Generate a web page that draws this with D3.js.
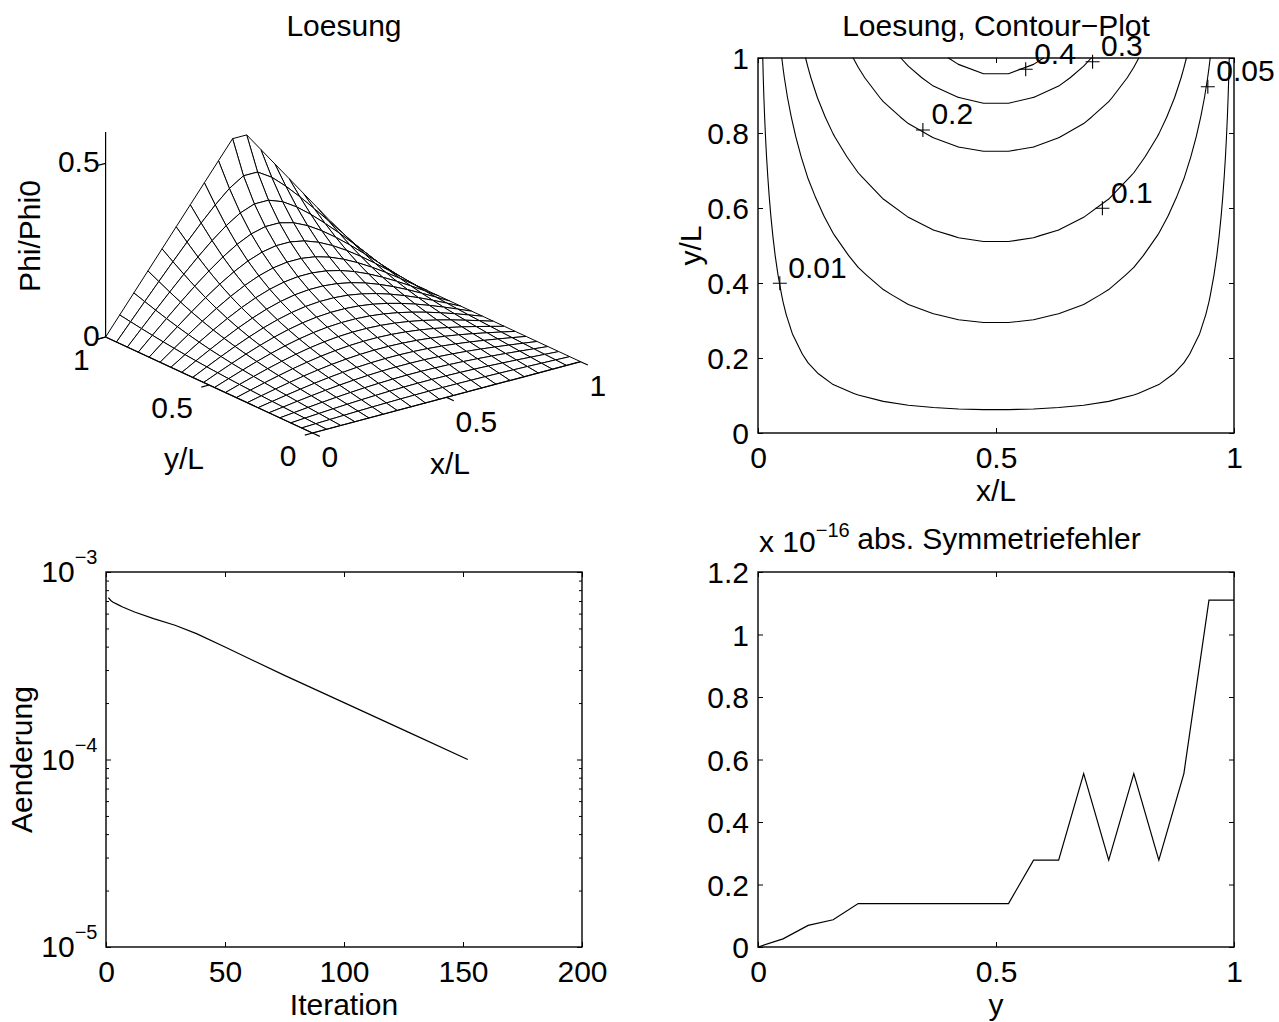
<!DOCTYPE html>
<html><head><meta charset="utf-8">
<script src="https://cdn.jsdelivr.net/npm/d3@7"></script>
<style>
html,body{margin:0;padding:0;background:#fff;}
</style></head><body>
<svg id="fig" width="1279" height="1022"></svg>
<script>
// ---------------- DATA ----------------
const gridX = [0,0.0526,0.1053,0.1579,0.2105,0.2632,0.3158,0.3684,0.4211,0.4737,0.5263,0.5789,0.6316,0.6842,0.7368,0.7895,0.8421,0.8947,0.9474,1];
const gridY = [0,0.0526,0.1053,0.1579,0.2105,0.2632,0.3158,0.3684,0.4211,0.4737,0.5263,0.5789,0.6316,0.6842,0.7368,0.7895,0.8421,0.8947,0.9474,1];
const phiGrid = [
 [0,0,0,0,0,0,0,0,0,0,0,0,0,0,0,0,0,0,0,0],
 [0,0.0014,0.0027,0.0040,0.0052,0.0062,0.0071,0.0077,0.0082,0.0084,0.0084,0.0082,0.0077,0.0071,0.0062,0.0052,0.0040,0.0027,0.0014,0],
 [0,0.0028,0.0055,0.0081,0.0104,0.0125,0.0142,0.0156,0.0165,0.0170,0.0170,0.0165,0.0156,0.0142,0.0125,0.0104,0.0081,0.0055,0.0028,0],
 [0,0.0042,0.0084,0.0123,0.0158,0.0189,0.0216,0.0236,0.0250,0.0257,0.0257,0.0250,0.0236,0.0216,0.0189,0.0158,0.0123,0.0084,0.0042,0],
 [0,0.0057,0.0113,0.0165,0.0214,0.0256,0.0291,0.0318,0.0337,0.0346,0.0346,0.0337,0.0318,0.0291,0.0256,0.0214,0.0165,0.0113,0.0057,0],
 [0,0.0073,0.0144,0.0210,0.0272,0.0325,0.0370,0.0405,0.0429,0.0441,0.0441,0.0429,0.0405,0.0370,0.0325,0.0272,0.0210,0.0144,0.0073,0],
 [0,0.0089,0.0176,0.0258,0.0333,0.0399,0.0454,0.0496,0.0525,0.0540,0.0540,0.0525,0.0496,0.0454,0.0399,0.0333,0.0258,0.0176,0.0089,0],
 [0,0.0106,0.0210,0.0308,0.0398,0.0477,0.0544,0.0595,0.0631,0.0649,0.0649,0.0631,0.0595,0.0544,0.0477,0.0398,0.0308,0.0210,0.0106,0],
 [0,0.0125,0.0247,0.0363,0.0469,0.0563,0.0642,0.0703,0.0745,0.0766,0.0766,0.0745,0.0703,0.0642,0.0563,0.0469,0.0363,0.0247,0.0125,0],
 [0,0.0146,0.0289,0.0424,0.0548,0.0658,0.0750,0.0822,0.0872,0.0897,0.0897,0.0872,0.0822,0.0750,0.0658,0.0548,0.0424,0.0289,0.0146,0],
 [0,0.0169,0.0334,0.0491,0.0636,0.0764,0.0872,0.0957,0.1015,0.1044,0.1044,0.1015,0.0957,0.0872,0.0764,0.0636,0.0491,0.0334,0.0169,0],
 [0,0.0195,0.0385,0.0567,0.0734,0.0884,0.1010,0.1109,0.1178,0.1212,0.1212,0.1178,0.1109,0.1010,0.0884,0.0734,0.0567,0.0385,0.0195,0],
 [0,0.0224,0.0442,0.0652,0.0846,0.1020,0.1169,0.1285,0.1366,0.1407,0.1407,0.1366,0.1285,0.1169,0.1020,0.0846,0.0652,0.0442,0.0224,0],
 [0,0.0256,0.0508,0.0748,0.0973,0.1176,0.1351,0.1490,0.1587,0.1637,0.1637,0.1587,0.1490,0.1351,0.1176,0.0973,0.0748,0.0508,0.0256,0],
 [0,0.0293,0.0580,0.0857,0.1118,0.1355,0.1562,0.1730,0.1848,0.1909,0.1909,0.1848,0.1730,0.1562,0.1355,0.1118,0.0857,0.0580,0.0293,0],
 [0,0.0333,0.0661,0.0979,0.1282,0.1561,0.1808,0.2012,0.2160,0.2238,0.2238,0.2160,0.2012,0.1808,0.1561,0.1282,0.0979,0.0661,0.0333,0],
 [0,0.0377,0.0750,0.1114,0.1465,0.1794,0.2092,0.2346,0.2537,0.2641,0.2641,0.2537,0.2346,0.2092,0.1794,0.1465,0.1114,0.0750,0.0377,0],
 [0,0.0425,0.0847,0.1262,0.1666,0.2054,0.2416,0.2739,0.2997,0.3148,0.3148,0.2997,0.2739,0.2416,0.2054,0.1666,0.1262,0.0847,0.0425,0],
 [0,0.0475,0.0948,0.1418,0.1881,0.2336,0.2776,0.3191,0.3557,0.3813,0.3813,0.3557,0.3191,0.2776,0.2336,0.1881,0.1418,0.0948,0.0475,0],
 [0,0.0526,0.1053,0.1579,0.2105,0.2632,0.3158,0.3684,0.4211,0.4737,0.4737,0.4211,0.3684,0.3158,0.2632,0.2105,0.1579,0.1053,0.0526,0]
];
const surfTicks = [0, 0.5, 1];
const surfZTicks = [0, 0.5];
const surfZMax = 0.59;

const contourLevels = [0.01, 0.05, 0.1, 0.2, 0.3, 0.4];
const contourLabelText = ["0.01", "0.05", "0.1", "0.2", "0.3", "0.4"];
const contourLabelX = [0.0458, 0.945, 0.7235, 0.3464, 0.7029, 0.5624];
const contourLabelY = [0.3992, 0.9235, 0.5992, 0.808, 0.9901, 0.9699];
const contourXTicks = [0, 0.5, 1];
const contourYTicks = [0, 0.2, 0.4, 0.6, 0.8, 1];

const iterations = [1, 2, 3, 5, 7, 12, 20, 29, 38, 50, 75, 100, 127, 152];
const aenderung = [7.3e-4, 7.05e-4, 6.9e-4, 6.7e-4, 6.51e-4, 6.12e-4, 5.64e-4, 5.2e-4, 4.69e-4, 3.98e-4, 2.81e-4, 2.01e-4, 1.40e-4, 1.0e-4];
const iterTicks = [0, 50, 100, 150, 200];
const logMajorTicks = [1e-5, 1e-4, 1e-3];
const logMajorLabels = ["\u22125", "\u22124", "\u22123"];

const symY = [0,0.0526,0.1053,0.1579,0.2105,0.2632,0.3158,0.3684,0.4211,0.4737,0.5263,0.5789,0.6316,0.6842,0.7368,0.7895,0.8421,0.8947,0.9474,1];
const symErr = [0,0.026,0.069,0.087,0.139,0.139,0.139,0.139,0.139,0.139,0.139,0.278,0.278,0.555,0.278,0.555,0.278,0.555,1.11,1.11]; // x 1e-16
const symXTicks = [0, 0.5, 1];
const symYTicks = [0, 0.2, 0.4, 0.6, 0.8, 1, 1.2];

// ---------------- DRAWING ----------------
const FONT = '"Liberation Sans", Arial, Helvetica, sans-serif';
const svg = d3.select("#fig").attr("font-family", FONT).attr("font-size", 30);
svg.append("rect").attr("width",1279).attr("height",1022).attr("fill","#fff");
const fmt = d => String(d);

function text(g, x, y, s, anchor, rot) {
  const t = g.append("text").attr("x", x).attr("y", y).attr("text-anchor", anchor || "middle").text(s);
  if (rot) t.attr("transform", `rotate(-90,${x},${y})`);
  return t;
}

function frame(g, xs, ys, xTicks, yTicks, xFmt, yFmt) {
  const [x0, x1] = xs.range(), [yb, yt] = ys.range();
  const style = a => a.call(s => s.select(".domain").remove())
      .attr("font-size", 30).attr("font-family", FONT)
      .call(s => s.selectAll("line").attr("stroke-width", 1));
  g.append("g").attr("transform", `translate(0,${yb})`)
    .call(d3.axisBottom(xs).tickValues(xTicks).tickFormat(xFmt).tickSizeInner(-5).tickSizeOuter(0).tickPadding(13.5)).call(style);
  g.append("g").attr("transform", `translate(0,${yt})`)
    .call(d3.axisTop(xs).tickValues(xTicks).tickFormat("").tickSizeInner(-5).tickSizeOuter(0)).call(style);
  if (yTicks) {
    g.append("g").attr("transform", `translate(${x0},0)`)
      .call(d3.axisLeft(ys).tickValues(yTicks).tickFormat(yFmt).tickSizeInner(-5).tickSizeOuter(0).tickPadding(9)).call(style)
      .call(s => s.selectAll("text").attr("dy", "0.36em"));
    g.append("g").attr("transform", `translate(${x1},0)`)
      .call(d3.axisRight(ys).tickValues(yTicks).tickFormat("").tickSizeInner(-5).tickSizeOuter(0)).call(style);
  }
  g.append("rect").attr("x", x0).attr("y", yt).attr("width", x1 - x0).attr("height", yb - yt)
    .attr("fill", "none").attr("stroke", "#000").attr("stroke-width", 1.4);
}

// ===== Panel 1: 3D mesh =====
(function(){
  const g = svg.append("g");
  // affine view projection (az ~ -37.5deg, el ~ 20deg)
  const sx = d3.scaleLinear().domain([0,1]).range([0,1]);
  const origin = [312.5, 433], ex = [268.1, -71.3], ey = [-206.9, -96], ez = [0, -347.4];
  const proj = (x, y, z) => [origin[0] + ex[0]*sx(x) + ey[0]*sx(y) + ez[0]*z,
                             origin[1] + ex[1]*sx(x) + ey[1]*sx(y) + ez[1]*z];
  const near = (x, y, z) => -193*x - 252*y + 126*z;
  const quads = [];
  for (let j = 0; j < gridY.length - 1; j++) for (let i = 0; i < gridX.length - 1; i++) {
    const c = [[i,j],[i+1,j],[i+1,j+1],[i,j+1]].map(([a,b]) => [gridX[a], gridY[b], phiGrid[b][a]]);
    const d = d3.mean(c, p => near(p[0], p[1], p[2]));
    quads.push({pts: c.map(p => proj(p[0], p[1], p[2])), d});
  }
  quads.sort((a, b) => a.d - b.d);
  const line = d3.line();
  g.selectAll("path.q").data(quads).join("path").attr("class","q")
    .attr("d", q => line(q.pts) + "Z")
    .attr("fill", "#fff").attr("stroke", "#000").attr("stroke-width", 1).attr("stroke-linejoin","round");
  // axes lines
  const ax = g.append("g").attr("stroke", "#000").attr("stroke-width", 1.2).attr("fill","none");
  ax.append("path").attr("d", line([proj(0,1,0), proj(0,1,surfZMax)]));
  ax.append("path").attr("d", line([proj(0,1,0), proj(0,0,0)]));
  ax.append("path").attr("d", line([proj(0,0,0), proj(1,0,0)]));
  const tl = 8, ux = [-0.966, 0.257], uy = [0.907, 0.421];
  surfTicks.forEach(v => {
    const p = proj(v, 0, 0);
    ax.append("path").attr("d", line([p, [p[0]+uy[0]*tl, p[1]+uy[1]*tl]]));
    text(g, p[0] + 9, p[1] + 23.5 + 10.75, fmt(v), "start");
    const q = proj(0, v, 0);
    ax.append("path").attr("d", line([q, [q[0]+ux[0]*tl, q[1]+ux[1]*tl]]));
    text(g, q[0] - 16, q[1] + 22 + 10.75, fmt(v), "end");
  });
  surfZTicks.forEach(v => {
    const p = proj(0, 1, v);
    ax.append("path").attr("d", line([p, [p[0]+ux[0]*tl, p[1]+ux[1]*tl]]));
    text(g, p[0] - 6, p[1] - 2 + 10.75, fmt(v), "end");
  });
  text(g, 40, 236, "Phi/Phi0", "middle", true);
  text(g, 184, 469, "y/L");
  text(g, 450, 474, "x/L");
  text(g, 344, 36, "Loesung");
})();

// ===== Panel 2: contour =====
(function(){
  const g = svg.append("g");
  const xs = d3.scaleLinear().domain([0,1]).range([758,1234]);
  const ys = d3.scaleLinear().domain([0,1]).range([433,58]);
  const line = d3.line().x(d => xs(d[0])).y(d => ys(d[1]));
  function segments(level) {
    const segs = [];
    for (let j = 0; j < gridY.length - 1; j++) for (let i = 0; i < gridX.length - 1; i++) {
      const v = [phiGrid[j][i], phiGrid[j][i+1], phiGrid[j+1][i+1], phiGrid[j+1][i]];
      const p = [[gridX[i],gridY[j]],[gridX[i+1],gridY[j]],[gridX[i+1],gridY[j+1]],[gridX[i],gridY[j+1]]];
      const pts = [];
      for (let e = 0; e < 4; e++) {
        const a = e, b = (e + 1) % 4, va = v[a] - level, vb = v[b] - level;
        if ((va < 0) !== (vb < 0)) {
          const t = va / (va - vb);
          pts.push([p[a][0] + t*(p[b][0]-p[a][0]), p[a][1] + t*(p[b][1]-p[a][1])]);
        }
      }
      if (pts.length === 2) segs.push(pts);
      else if (pts.length === 4) {
        const c = d3.mean(v) - level;
        if ((c < 0) === (v[0] - level < 0)) { segs.push([pts[0], pts[3]]); segs.push([pts[1], pts[2]]); }
        else { segs.push([pts[0], pts[1]]); segs.push([pts[2], pts[3]]); }
      }
    }
    return segs;
  }
  contourLevels.forEach(l => {
    g.append("path").attr("d", segments(l).map(s => line(s)).join(""))
      .attr("fill","none").attr("stroke","#000").attr("stroke-width",1.1).attr("stroke-linecap","round");
  });
  frame(g, xs, ys, contourXTicks, contourYTicks, fmt, fmt);
  contourLabelText.forEach((t, k) => {
    const px = xs(contourLabelX[k]), py = ys(contourLabelY[k]);
    g.append("path").attr("d", `M${px-7},${py}H${px+7}M${px},${py-7}V${py+7}`).attr("stroke","#000").attr("stroke-width",1.1);
    text(g, px + 8.5, py - 5.75, t, "start");
  });
  text(g, 996, 501, "x/L");
  text(g, 701, 245.5, "y/L", "middle", true);
  text(g, 996, 36, "Loesung, Contour\u2212Plot");
})();

// ===== Panel 3: Aenderung (log) =====
(function(){
  const g = svg.append("g");
  const xs = d3.scaleLinear().domain([0,200]).range([106,582]);
  const ys = d3.scaleLog().domain([1e-5,1e-3]).range([947,572]);
  g.append("path").datum(d3.zip(iterations, aenderung))
    .attr("d", d3.line().x(d => xs(d[0])).y(d => ys(d[1])))
    .attr("fill","none").attr("stroke","#000").attr("stroke-width",1.2);
  frame(g, xs, ys, iterTicks, null, fmt, null);
  const minors = [];
  [1e-5, 1e-4].forEach(k => [2,3,4,5,6,7,8,9].forEach(m => minors.push(m*k)));
  const st = a => a.call(s => s.select(".domain").remove()).call(s => s.selectAll("line").attr("stroke-width",1));
  g.append("g").attr("transform","translate(106,0)").call(d3.axisLeft(ys).tickValues(logMajorTicks).tickFormat("").tickSizeInner(-5).tickSizeOuter(0)).call(st);
  g.append("g").attr("transform","translate(582,0)").call(d3.axisRight(ys).tickValues(logMajorTicks).tickFormat("").tickSizeInner(-5).tickSizeOuter(0)).call(st);
  g.append("g").attr("transform","translate(106,0)").call(d3.axisLeft(ys).tickValues(minors).tickFormat("").tickSizeInner(-3).tickSizeOuter(0)).call(st);
  g.append("g").attr("transform","translate(582,0)").call(d3.axisRight(ys).tickValues(minors).tickFormat("").tickSizeInner(-3).tickSizeOuter(0)).call(st);
  logMajorTicks.forEach((v, k) => {
    const t = g.append("text").attr("x", 97.5).attr("y", ys(v) + 10).attr("text-anchor","end");
    t.append("tspan").text("10");
    t.append("tspan").attr("dy", -18).attr("font-size", 20).text(logMajorLabels[k]);
  });
  text(g, 344, 1015, "Iteration");
  text(g, 32, 759.5, "Aenderung", "middle", true);
})();

// ===== Panel 4: Symmetriefehler =====
(function(){
  const g = svg.append("g");
  const xs = d3.scaleLinear().domain([0,1]).range([758,1234]);
  const ys = d3.scaleLinear().domain([0,1.2]).range([947,572]);
  g.append("path").datum(d3.zip(symY, symErr))
    .attr("d", d3.line().x(d => xs(d[0])).y(d => ys(d[1])))
    .attr("fill","none").attr("stroke","#000").attr("stroke-width",1.2);
  frame(g, xs, ys, symXTicks, symYTicks, fmt, fmt);
  const t = g.append("text").attr("x", 759).attr("y", 552).attr("text-anchor","start");
  t.append("tspan").text("x 10");
  t.append("tspan").attr("dy", -15).attr("font-size", 20).text("\u221216");
  text(g, 999, 549, "abs. Symmetriefehler");
  text(g, 996, 1015, "y");
})();
</script>
</body></html>
